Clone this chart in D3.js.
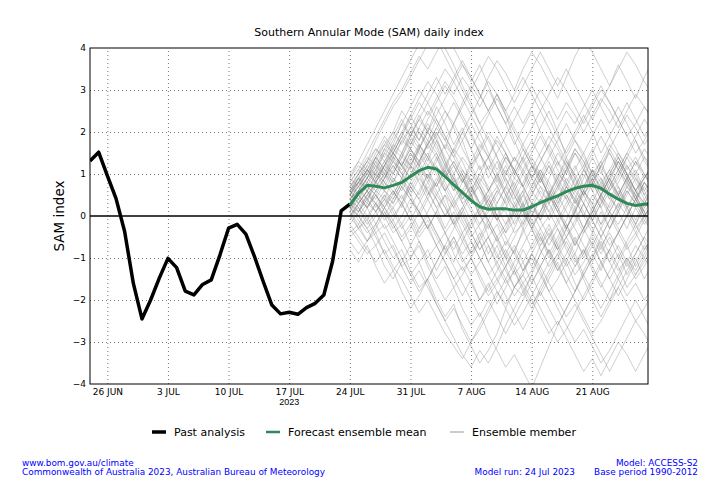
<!DOCTYPE html>
<html><head><meta charset="utf-8">
<script src="https://cdn.jsdelivr.net/npm/d3@7"></script>
<style>body{margin:0;background:#fff}svg{display:block;font-family:"DejaVu Sans",sans-serif}</style>
</head><body>
<svg id="c" width="720" height="480"></svg>
<script>
const pastStart = "2023-06-24";
const pastValues = [1.31,1.52,0.96,0.42,-0.37,-1.60,-2.45,-2.00,-1.48,-1.01,-1.23,-1.79,-1.88,-1.63,-1.52,-0.93,-0.29,-0.20,-0.43,-0.97,-1.56,-2.12,-2.33,-2.29,-2.34,-2.18,-2.08,-1.88,-1.09,0.12,0.28];
const fcStart = "2023-07-24";
const meanValues = [0.26,0.54,0.73,0.71,0.67,0.73,0.80,0.94,1.08,1.16,1.12,0.94,0.74,0.56,0.37,0.22,0.16,0.17,0.17,0.14,0.14,0.22,0.32,0.40,0.48,0.58,0.66,0.71,0.73,0.66,0.52,0.40,0.30,0.25,0.28,0.30];
const members = [
[0.5,0.9,1.3,1.8,2.2,2.6,2.9,3.3,3.7,4.1,4.4,4.0,3.6,3.1,2.7,2.2,2.5,2.9,2.4,1.8,1.3,1.6,2.1,2.5,2.0,1.4,0.9,1.2,1.6,1.1,0.6,0.9,1.4,1.8,1.3,1.0],
[0.2,-0.1,-0.4,-0.2,-0.6,-1.0,-0.8,-1.3,-1.7,-1.5,-2.0,-2.4,-2.1,-2.7,-3.1,-3.5,-3.2,-2.8,-2.2,-1.7,-1.9,-1.4,-0.9,-0.5,-0.8,-0.3,0.2,0.6,0.3,-0.2,0.1,0.5,0.9,0.6,0.2,0.4],
[0.6,0.8,1.1,0.9,1.3,1.6,1.4,1.9,2.3,2.0,1.7,1.2,0.8,0.4,0.7,0.3,-0.2,-0.6,-0.3,0.2,0.6,1.0,0.7,0.3,-0.1,-0.5,-0.2,0.3,0.8,1.2,1.5,1.1,0.7,1.0,1.4,1.2],
[-0.3,-0.6,-0.9,-0.7,-1.2,-1.5,-1.1,-0.7,-0.3,0.1,0.5,0.2,-0.2,-0.6,-1.0,-1.4,-1.8,-1.5,-1.9,-2.3,-2.7,-2.3,-1.8,-1.4,-1.0,-0.6,-1.0,-1.5,-2.0,-2.4,-2.0,-1.5,-1.1,-0.7,-1.0,-0.6],
[0.9,1.2,1.0,1.4,1.1,0.8,1.2,1.6,2.0,1.7,2.1,2.5,2.2,2.7,3.1,2.8,3.3,3.7,3.4,3.0,3.5,3.9,3.6,3.2,2.8,3.3,3.8,4.2,3.9,3.5,3.1,3.6,3.2,2.8,3.3,3.7],
[0.4,0.1,0.5,0.8,0.6,1.0,1.4,1.2,0.8,0.4,0.0,-0.4,-0.1,-0.5,-0.9,-0.6,-1.1,-1.5,-1.2,-0.8,-0.4,0.0,0.4,0.1,-0.3,-0.7,-1.1,-0.8,-1.2,-1.6,-2.0,-1.7,-1.3,-0.9,-0.5,-0.8],
[0.3,0.6,0.9,1.3,1.7,1.5,1.9,2.4,2.8,3.2,2.9,2.5,2.1,1.6,1.2,0.8,0.4,0.7,1.1,0.6,0.2,-0.2,0.1,0.5,0.9,1.3,1.0,0.6,0.2,0.5,0.9,0.5,0.1,-0.3,0.0,0.3],
[-0.8,-1.1,-0.7,-1.2,-1.6,-1.3,-1.8,-2.2,-1.9,-1.5,-1.1,-0.7,-1.1,-0.6,-0.2,0.2,-0.1,0.3,0.7,0.4,0.8,1.2,0.9,0.5,0.1,-0.3,0.1,0.6,1.0,0.7,1.1,1.5,1.2,0.8,0.4,0.7],
[0.7,1.0,1.4,1.2,1.6,2.0,2.5,2.2,1.8,2.3,2.7,3.1,2.8,2.4,2.0,1.5,1.9,1.4,0.9,0.5,0.1,-0.3,-0.8,-1.2,-0.9,-1.4,-1.8,-1.4,-1.0,-0.5,-0.1,0.3,0.0,-0.4,-0.8,-0.5],
[0.0,0.3,0.0,-0.4,-0.2,-0.6,-1.0,-1.4,-1.1,-1.6,-2.1,-2.5,-2.9,-3.3,-3.6,-3.2,-3.5,-3.1,-2.6,-2.2,-1.8,-2.2,-1.7,-1.3,-0.9,-0.5,-0.9,-0.4,0.0,0.4,0.1,-0.3,-0.7,-0.4,0.0,0.3],
[0.5,0.7,0.4,0.8,1.1,0.9,0.6,1.0,1.3,0.9,1.3,1.7,1.4,1.0,0.6,1.0,1.4,1.8,1.5,1.1,0.7,1.1,1.5,1.9,1.6,1.2,0.8,0.5,0.9,1.3,1.7,1.4,1.0,0.6,0.3,0.6],
[0.8,1.1,1.5,1.9,2.3,2.7,3.0,3.4,3.8,3.5,3.9,4.3,4.0,3.6,3.2,3.6,3.1,2.6,2.2,1.7,2.1,2.5,2.0,1.6,1.2,1.6,2.0,2.4,2.0,1.5,1.9,2.3,2.7,2.3,1.9,2.2],
[0.1,-0.2,0.2,0.5,0.2,-0.2,-0.6,-0.3,0.1,0.5,0.9,0.6,1.0,1.4,1.1,0.7,0.3,-0.1,-0.5,-0.9,-1.3,-1.0,-1.4,-1.8,-2.2,-2.6,-3.0,-2.7,-3.1,-3.5,-3.2,-2.8,-2.4,-2.0,-2.4,-2.8],
[0.6,0.4,0.8,0.6,0.9,1.3,1.1,1.5,1.2,0.8,0.4,0.0,0.3,-0.1,-0.5,-0.2,0.2,0.6,1.0,1.4,1.1,0.7,1.1,0.7,0.3,0.7,1.1,1.5,1.9,2.3,1.9,1.5,1.1,1.4,1.0,0.7],
[-0.4,-0.2,-0.6,-0.3,0.1,-0.2,-0.6,-1.0,-0.7,-1.2,-1.6,-2.0,-1.7,-2.2,-2.6,-2.3,-2.8,-3.2,-3.6,-3.3,-3.7,-4.1,-3.6,-3.1,-2.6,-2.2,-1.8,-1.3,-0.9,-1.3,-0.8,-0.4,0.0,0.4,0.1,-0.3],
[1.0,1.3,1.1,1.5,1.9,1.6,2.0,1.7,2.1,2.5,2.2,1.8,1.4,1.8,2.2,1.8,1.4,1.0,0.6,0.2,0.5,0.1,-0.3,0.0,0.4,0.8,0.5,0.1,-0.3,-0.7,-0.4,-0.8,-1.2,-0.9,-0.5,-0.1],
[0.4,0.6,0.9,0.7,1.0,1.4,1.8,2.1,1.8,2.2,1.8,1.3,0.9,0.5,0.1,-0.3,-0.7,-1.1,-0.8,-1.2,-1.6,-1.3,-0.9,-0.5,-0.1,0.3,0.7,1.1,0.8,1.2,1.6,2.0,2.4,2.1,1.7,2.0],
[0.2,0.0,0.3,0.1,0.4,0.2,0.5,0.1,-0.3,0.0,-0.4,-0.8,-0.5,-0.9,-0.6,-1.0,-1.4,-1.1,-1.5,-1.9,-1.6,-2.0,-2.4,-2.8,-2.5,-2.9,-3.3,-3.7,-3.4,-3.8,-3.4,-3.0,-3.3,-3.7,-3.3,-2.9],
[0.6,0.9,1.2,1.0,0.7,1.1,1.5,1.2,1.6,2.0,1.6,1.2,1.6,2.0,2.4,2.8,3.2,2.9,2.5,2.9,3.3,2.9,2.5,2.1,1.7,1.3,0.9,0.5,0.8,0.4,0.0,-0.4,-0.8,-0.5,-0.1,0.2],
[0.3,0.5,0.2,0.6,0.9,1.2,0.9,0.5,0.1,-0.3,-0.7,-1.1,-1.5,-1.2,-1.6,-2.0,-1.7,-1.3,-0.9,-0.5,-0.1,0.3,0.0,0.4,0.8,1.2,1.6,1.3,0.9,0.5,0.9,1.3,1.0,0.6,0.9,1.2],
[-0.5,-0.3,0.0,0.3,0.6,0.4,0.8,1.2,1.6,2.0,2.4,2.8,3.2,3.6,3.3,2.9,2.5,2.1,1.7,1.3,1.7,2.1,2.5,2.9,3.3,3.0,2.6,2.2,2.6,3.0,2.7,2.3,1.9,1.5,1.8,2.2],
[0.8,0.5,0.2,0.5,0.1,-0.3,0.0,0.4,0.1,-0.3,0.1,0.5,0.2,0.6,1.0,0.7,0.3,-0.1,0.2,0.6,1.0,1.4,1.0,0.6,0.2,-0.2,-0.6,-0.3,-0.7,-1.1,-0.8,-0.4,0.0,0.4,0.7,0.4],
[-0.2,-0.5,-0.8,-1.1,-0.8,-1.2,-1.5,-1.9,-2.3,-2.0,-2.4,-2.8,-3.1,-3.4,-3.0,-2.6,-2.2,-1.8,-2.1,-1.7,-1.3,-0.9,-1.2,-1.6,-2.0,-2.4,-2.1,-2.5,-2.9,-3.3,-3.7,-3.3,-2.9,-2.5,-2.8,-3.2],
[0.5,0.8,0.6,1.0,1.3,1.0,1.4,1.8,1.5,1.1,0.7,1.1,0.7,0.3,-0.1,0.2,0.6,0.2,-0.2,0.1,0.5,0.9,1.3,1.7,2.1,2.5,2.2,2.6,3.0,2.6,2.2,2.6,2.2,1.8,1.4,1.0],
[0.2,0.5,0.8,1.1,0.8,1.2,0.9,0.6,1.0,1.4,1.1,0.7,0.3,0.6,0.2,-0.2,0.1,0.5,0.9,0.5,0.1,-0.3,-0.7,-0.4,-0.8,-0.5,-0.1,0.3,-0.1,-0.5,-0.9,-1.3,-1.0,-1.4,-1.1,-0.7],
[0.4,0.7,1.0,1.4,1.1,1.5,1.9,1.6,1.3,1.7,2.1,1.8,2.2,2.6,3.0,3.4,3.8,3.5,3.1,2.7,3.1,3.5,3.9,3.5,3.1,3.5,3.1,2.7,2.3,2.7,3.1,3.5,3.9,3.6,3.2,2.9],
[0.0,-0.3,-0.1,-0.5,-0.9,-1.3,-1.0,-1.4,-1.8,-1.5,-1.1,-0.7,-0.3,0.1,0.5,0.9,0.6,1.0,1.4,1.1,0.7,0.3,-0.1,-0.5,-0.2,0.2,0.6,0.3,-0.1,0.3,0.7,1.1,0.8,0.4,0.0,0.3],
[0.7,1.0,1.3,1.6,1.4,1.8,2.2,2.6,3.0,2.7,2.3,1.9,1.5,1.1,0.7,0.3,-0.1,-0.5,-0.9,-1.3,-1.7,-2.1,-1.8,-2.2,-2.6,-2.2,-1.8,-1.4,-1.8,-2.2,-1.8,-1.4,-1.0,-1.3,-0.9,-0.5],
[0.3,0.1,0.4,0.7,1.0,0.7,0.4,0.8,1.2,0.9,0.5,0.9,1.3,0.9,0.5,0.1,0.4,0.0,-0.4,-0.1,0.3,-0.1,-0.5,-0.9,-1.3,-1.0,-1.4,-1.1,-0.7,-0.3,0.1,-0.2,0.2,0.6,0.3,0.7],
[0.9,1.3,1.7,2.1,2.5,2.9,3.3,3.7,4.1,4.5,4.2,3.8,3.4,3.0,2.6,2.2,1.8,1.4,1.0,1.4,1.0,0.6,1.0,1.4,1.8,2.2,1.8,1.4,1.0,0.6,1.0,1.4,1.0,0.6,0.9,1.3],
[-0.6,-0.9,-0.6,-0.2,0.2,-0.1,0.3,0.7,0.4,0.0,-0.4,-0.8,-1.2,-1.6,-2.0,-2.4,-2.0,-2.4,-2.8,-2.4,-2.0,-1.6,-1.2,-0.8,-1.2,-1.6,-2.0,-2.4,-2.8,-2.5,-2.1,-1.7,-2.1,-2.5,-2.2,-1.8],
[0.5,0.3,0.6,0.9,1.2,1.5,1.2,0.9,1.3,1.7,2.0,1.6,1.2,0.8,1.1,1.5,1.1,0.7,0.3,0.7,1.1,1.5,1.9,1.5,1.1,0.7,0.3,0.7,1.1,0.8,0.4,0.8,1.2,0.9,0.5,0.2],
[0.1,0.4,0.2,-0.2,0.2,0.5,0.9,1.3,1.7,1.4,1.0,0.6,0.2,-0.2,-0.6,-1.0,-1.4,-1.8,-2.2,-2.6,-2.3,-1.9,-1.5,-1.1,-0.7,-0.3,0.1,0.5,0.9,0.5,0.1,0.5,0.9,1.3,1.0,0.6],
[0.6,0.9,0.7,1.1,1.5,1.9,2.3,1.9,2.3,2.7,3.1,3.5,3.2,2.8,2.4,2.0,2.4,2.8,2.4,2.0,1.6,1.2,0.8,1.2,0.8,0.4,0.0,-0.4,-0.1,0.3,0.7,1.1,1.5,1.9,2.3,2.0],
[0.2,0.0,-0.3,0.0,0.3,0.6,0.3,-0.1,0.3,0.7,0.4,0.0,0.4,0.0,-0.4,-0.8,-0.5,-0.9,-1.3,-1.7,-1.4,-1.8,-2.2,-2.6,-3.0,-2.7,-2.3,-1.9,-1.5,-1.1,-1.5,-1.9,-1.5,-1.1,-0.7,-1.0],
[0.4,0.7,1.0,0.8,1.2,1.6,2.0,2.4,2.0,1.6,1.9,2.3,2.7,2.3,1.9,1.5,1.1,1.5,1.9,2.3,2.7,3.1,2.7,2.3,1.9,1.5,1.9,2.3,2.7,3.1,2.7,2.3,1.9,2.2,2.6,2.3],
[0.3,0.0,-0.3,-0.7,-0.4,-0.8,-1.2,-1.6,-1.3,-1.7,-2.1,-2.5,-2.2,-2.6,-3.0,-2.7,-2.3,-1.9,-1.5,-1.1,-0.7,-0.3,0.1,0.5,0.9,0.5,0.1,-0.3,0.1,0.5,0.9,1.3,0.9,0.5,0.1,-0.3],
[0.7,0.5,0.9,1.2,0.9,1.3,1.0,0.7,0.4,0.8,1.2,0.8,0.4,0.8,1.2,1.6,2.0,1.7,1.3,0.9,1.3,0.9,0.5,0.1,0.5,0.1,-0.3,-0.7,-1.1,-0.7,-1.1,-1.5,-1.9,-1.6,-2.0,-1.7],
[0.5,0.8,1.1,1.4,1.7,2.0,1.7,2.1,2.5,2.9,3.3,2.9,3.3,3.7,3.3,2.9,2.5,2.9,2.5,2.1,1.7,1.3,0.9,0.5,0.1,-0.3,-0.7,-0.3,0.1,-0.3,-0.7,-0.4,0.0,0.4,0.8,0.5],
[0.0,0.3,0.6,0.3,-0.1,0.2,-0.2,0.2,0.6,1.0,0.6,0.2,-0.2,0.2,0.6,1.0,0.7,0.3,0.7,1.1,0.7,0.3,-0.1,0.3,0.7,1.1,0.7,0.3,-0.1,-0.5,-0.1,0.3,0.7,0.4,0.0,-0.4],
[0.4,0.6,1.1,1.0,1.5,1.3,1.8,1.6,1.2,1.5,1.1,0.6,0.9,0.3,0.5,0.0,-0.3,0.2,0.1,-0.4,-0.2,0.3,0.7,0.5,1.0,0.8,0.3,0.6,1.1,0.9,0.4,0.2,0.7,0.5,0.0,0.3],
[0.3,0.8,0.7,0.5,0.9,1.4,1.2,0.9,1.6,2.1,1.9,1.3,0.8,1.0,0.5,0.7,0.2,-0.1,0.4,0.9,0.7,1.2,1.0,0.4,0.6,1.1,1.5,1.2,0.6,0.9,0.5,0.1,0.5,0.9,0.6,0.2],
[0.5,0.4,0.2,0.6,0.4,0.9,0.7,1.2,1.0,0.5,0.8,0.3,-0.2,0.1,-0.4,-0.8,-0.5,-1.0,-0.6,-0.9,-0.3,0.2,-0.1,0.5,0.2,-0.3,0.1,0.6,0.3,0.8,1.1,0.7,0.2,-0.2,0.3,0.1],
[0.1,0.6,0.9,1.3,1.0,0.8,1.3,1.1,1.7,1.4,2.0,1.6,2.2,1.8,1.2,1.5,0.9,1.3,0.8,0.3,0.6,0.0,0.4,-0.1,0.3,0.7,0.4,0.9,1.4,1.0,1.6,1.2,0.8,1.1,0.6,0.9],
[0.7,0.9,0.6,1.0,0.8,0.5,0.9,1.4,1.1,0.6,0.2,0.5,-0.1,0.2,-0.3,0.1,-0.5,-0.2,-0.7,-0.3,0.2,0.6,0.3,0.9,1.3,1.0,1.5,1.1,0.7,1.2,0.8,1.3,0.9,0.4,0.8,0.5],
[0.2,0.5,0.3,0.9,1.2,1.0,1.5,2.0,1.7,1.3,1.8,1.4,1.0,0.4,0.7,0.2,0.5,0.0,-0.4,0.1,-0.3,-0.8,-0.4,-0.9,-0.5,-0.1,0.4,0.0,0.5,0.2,-0.3,0.1,0.6,0.3,0.8,0.5],
[0.6,1.0,1.3,1.1,1.6,1.4,1.0,1.5,1.2,1.8,1.5,1.1,1.6,1.3,0.8,1.2,0.6,0.9,0.5,0.8,0.3,0.7,1.1,0.8,0.4,0.9,0.6,1.0,0.6,0.2,0.6,1.0,1.4,1.0,0.5,0.8],
[-0.1,0.3,0.6,0.4,0.8,0.6,0.2,0.7,1.1,0.9,1.4,1.0,0.6,1.1,0.8,0.3,0.6,1.0,0.5,0.0,0.3,-0.2,-0.6,-0.2,-0.7,-1.1,-0.6,-0.9,-0.4,-0.8,-0.3,0.1,-0.3,0.2,-0.2,0.1],
[0.9,0.7,1.1,0.8,1.2,1.7,1.5,1.9,1.6,1.2,1.5,1.0,1.3,0.9,0.4,0.8,1.2,0.9,1.4,1.1,1.6,1.2,0.8,1.2,0.7,1.1,1.6,1.3,0.8,0.4,0.8,0.5,0.9,1.3,0.9,1.2],
[0.4,0.2,0.5,0.3,0.0,0.4,0.8,0.5,0.9,0.6,0.2,-0.3,0.1,-0.4,-0.1,-0.6,-1.1,-0.7,-1.2,-0.8,-1.3,-0.9,-0.5,-1.0,-0.6,-0.2,-0.7,-0.3,0.2,-0.2,0.3,0.7,0.3,-0.1,0.4,0.0],
[0.5,0.9,0.8,1.2,1.0,1.5,1.2,1.7,2.1,1.8,2.3,1.9,1.5,2.0,1.6,1.1,1.4,0.8,1.2,0.7,0.2,0.5,0.9,1.3,0.9,1.4,1.8,1.5,1.0,1.3,0.8,0.4,0.8,0.5,0.9,1.2],
[0.3,0.1,0.5,0.8,0.6,0.3,0.7,0.4,0.0,0.4,0.8,1.2,0.9,0.5,0.9,0.6,0.2,0.6,0.3,-0.2,0.2,-0.3,0.1,0.6,0.2,0.7,0.4,0.0,-0.4,0.1,-0.3,0.2,0.6,0.3,-0.1,-0.4],
[0.8,1.1,0.9,1.4,1.8,1.5,1.2,1.6,1.3,1.7,1.4,0.9,1.2,0.8,1.3,1.7,1.4,1.9,1.5,1.0,1.4,1.8,1.4,1.0,1.5,1.2,0.7,1.1,1.5,1.9,1.5,1.1,1.5,1.2,1.6,1.3],
[0.0,0.2,-0.2,0.1,0.5,0.3,0.7,0.4,0.1,-0.3,0.1,-0.4,-0.8,-0.4,-0.9,-0.5,-0.1,-0.5,-0.2,0.3,0.0,0.5,0.9,0.5,0.1,0.5,0.2,-0.3,0.1,0.5,0.2,0.6,0.2,-0.2,0.2,0.5],
[0.6,0.8,1.2,1.6,1.3,1.7,2.2,1.9,2.4,2.0,2.6,2.2,1.7,2.1,1.6,2.0,1.5,1.1,1.5,1.0,1.4,0.9,1.3,1.7,1.3,0.8,1.2,0.7,1.1,0.6,1.0,1.4,1.0,0.6,1.0,0.7],
[0.2,0.4,0.7,0.5,0.2,0.6,0.3,0.8,0.5,1.0,0.7,1.1,0.6,0.9,0.5,0.0,0.4,0.0,0.5,0.2,-0.2,0.2,0.6,0.3,0.7,0.4,0.9,0.5,0.1,0.5,0.9,0.5,0.2,0.5,0.1,0.4],
[0.1,-0.3,-0.6,-0.4,-0.9,-0.7,-1.2,-1.0,-0.6,-1.1,-1.5,-1.2,-1.7,-1.4,-1.0,-1.5,-1.9,-1.6,-1.2,-1.7,-1.4,-0.9,-1.3,-1.8,-1.5,-1.1,-1.6,-2.0,-1.6,-1.2,-0.8,-1.2,-1.7,-1.4,-1.0,-1.3],
[0.4,0.2,-0.1,0.3,0.0,-0.4,-0.2,-0.7,-1.1,-0.8,-1.3,-0.9,-0.5,-1.0,-1.4,-1.1,-0.7,-1.2,-1.6,-1.3,-0.8,-1.2,-0.7,-0.3,-0.8,-1.2,-0.9,-1.4,-1.0,-0.6,-1.1,-0.7,-1.1,-1.5,-1.2,-0.8],
[-0.2,0.1,0.4,0.1,-0.3,-0.1,-0.5,-0.2,-0.6,-1.0,-0.7,-1.1,-1.5,-1.9,-1.5,-2.0,-1.6,-2.1,-1.7,-1.3,-1.8,-1.4,-1.9,-1.5,-1.1,-1.6,-1.2,-0.8,-1.3,-1.7,-1.3,-0.9,-1.4,-1.0,-1.5,-1.1],
[0.6,0.3,0.6,0.2,0.5,0.1,-0.3,0.0,-0.4,-0.1,-0.5,-0.9,-0.6,-1.1,-0.8,-0.4,-0.9,-0.5,-1.0,-1.4,-1.1,-1.6,-1.2,-0.8,-1.3,-0.9,-0.5,-1.0,-0.6,-1.1,-1.5,-1.1,-0.7,-1.2,-0.8,-0.5],
[0.3,0.6,0.4,0.1,0.4,0.0,0.3,-0.1,-0.5,-0.2,-0.7,-0.4,-0.9,-1.3,-1.0,-0.6,-0.2,-0.6,-1.0,-0.7,-1.1,-0.7,-0.3,-0.7,-0.3,-0.8,-1.2,-0.9,-0.5,-0.9,-0.5,-1.0,-0.6,-0.2,-0.6,-1.0],
[0.5,0.8,1.1,0.8,1.2,1.5,1.9,2.3,2.7,2.4,2.8,3.2,2.9,3.3,3.0,2.6,3.0,2.6,2.2,2.6,2.2,2.6,3.0,2.7,2.3,2.7,2.4,2.0,2.4,2.8,2.5,2.1,2.5,2.9,2.6,2.3]
];
const xTickDates = ["2023-06-26","2023-07-03","2023-07-10","2023-07-17","2023-07-24","2023-07-31","2023-08-07","2023-08-14","2023-08-21"];
const xTickLabels = ["26 JUN","3 JUL","10 JUL","17 JUL","24 JUL","31 JUL","7 AUG","14 AUG","21 AUG"];
const yTicks = [-4,-3,-2,-1,0,1,2,3,4];

const parse = d3.utcParse("%Y-%m-%d");
const day = 864e5;
const svg = d3.select("#c");
const L = 90, R = 648, T = 48, B = 384;
const x = d3.scaleUtc().domain([parse("2023-06-24"), new Date(parse("2023-08-21").getTime() + 6.43*day)]).range([L, R]);
const y = d3.scaleLinear().domain([-4, 4]).range([B, T]);

const pastDates = pastValues.map((v,i)=> new Date(parse(pastStart).getTime() + i*day));
const fcDates = meanValues.map((v,i)=> new Date(parse(fcStart).getTime() + i*day));

svg.append("defs").append("clipPath").attr("id","clip").append("rect").attr("x",L).attr("y",T).attr("width",R-L).attr("height",B-T);

svg.append("text").attr("x",369).attr("y",36).attr("text-anchor","middle").attr("font-size",11).text("Southern Annular Mode (SAM) daily index");

const gx = svg.append("g").attr("transform",`translate(0,${B})`)
  .call(d3.axisBottom(x).tickValues(xTickDates.map(parse)).tickFormat((d,i)=>xTickLabels[i]).tickSize(-(B-T)).tickPadding(5));
gx.select(".domain").remove();
gx.selectAll(".tick line").attr("stroke","#555").attr("stroke-width",0.8).attr("stroke-dasharray","1,3");
gx.selectAll(".tick text").attr("font-size",9).attr("font-family","DejaVu Sans").attr("fill","#000");
gx.append("text").attr("x",x(parse("2023-07-17"))).attr("y",15).attr("text-anchor","middle").attr("font-size",9).attr("fill","#000").attr("dy","0.71em").text("2023");

const gy = svg.append("g").attr("transform",`translate(${L},0)`)
  .call(d3.axisLeft(y).tickValues(yTicks).tickFormat(d=> d<0 ? "\u2212"+Math.abs(d) : String(d)).tickSize(-(R-L)).tickPadding(4));
gy.select(".domain").remove();
gy.selectAll(".tick line").attr("stroke","#555").attr("stroke-width",0.8).attr("stroke-dasharray","1,3");
gy.selectAll(".tick").filter(d=>d===0||d===4||d===-4).select("line").remove();
gy.selectAll(".tick text").attr("font-size",9).attr("font-family","DejaVu Sans").attr("fill","#000");

svg.append("text").attr("transform",`translate(64,${(T+B)/2}) rotate(-90)`).attr("text-anchor","middle").attr("font-size",13.5).text("SAM index");

const plot = svg.append("g").attr("clip-path","url(#clip)");
const line = d3.line().x(d=>x(d[0])).y(d=>y(d[1]));

plot.append("g").selectAll("path").data(members).join("path")
  .attr("d", m => line(m.map((v,i)=>[fcDates[i], v])))
  .attr("fill","none").attr("stroke","#808080").attr("stroke-opacity",0.38).attr("stroke-width",1);

svg.append("line").attr("x1",L).attr("x2",R).attr("y1",y(0)).attr("y2",y(0)).attr("stroke","#000").attr("stroke-width",1.3);

plot.append("path").attr("d", line(pastValues.map((v,i)=>[pastDates[i], v])))
  .attr("fill","none").attr("stroke","#000").attr("stroke-width",3.5).attr("stroke-linejoin","round");
plot.append("path").attr("d", line(meanValues.map((v,i)=>[fcDates[i], v])))
  .attr("fill","none").attr("stroke","#2e8b57").attr("stroke-width",3).attr("stroke-linejoin","round");

svg.append("rect").attr("x",L).attr("y",T).attr("width",R-L).attr("height",B-T).attr("fill","none").attr("stroke","#000").attr("stroke-width",1);

const leg = [
  {label:"Past analysis", x1:152, color:"#000", w:3.5},
  {label:"Forecast ensemble mean", x1:266, color:"#2e8b57", w:2.5},
  {label:"Ensemble member", x1:450, color:"#999", w:1}
];
const lg = svg.append("g");
leg.forEach(l=>{
  lg.append("line").attr("x1",l.x1).attr("x2",l.x1+14).attr("y1",432).attr("y2",432).attr("stroke",l.color).attr("stroke-width",l.w);
  lg.append("text").attr("x",l.x1+22).attr("y",436).attr("font-size",11).text(l.label);
});

const ft = svg.append("g").attr("fill","#0000ff").attr("font-size",8.9);
ft.append("text").attr("x",22).attr("y",466).text("www.bom.gov.au/climate");
ft.append("text").attr("x",22).attr("y",475).text("Commonwealth of Australia 2023, Australian Bureau of Meteorology");
ft.append("text").attr("x",698).attr("y",466).attr("text-anchor","end").text("Model: ACCESS-S2");
ft.append("text").attr("x",698).attr("y",475).attr("text-anchor","end").text("Base period 1990-2012");
ft.append("text").attr("x",575).attr("y",475).attr("text-anchor","end").text("Model run: 24 Jul 2023");
</script>
</body></html>
